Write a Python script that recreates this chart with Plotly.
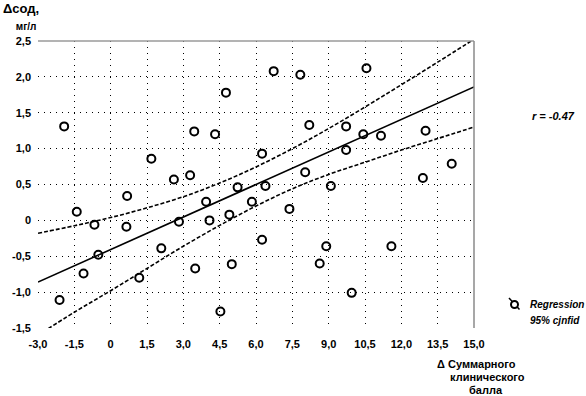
import plotly.graph_objects as go

# ---- data ----
score_x = [-1.92, 4.76, 3.45, 4.31, 1.68, 2.61, 3.28, 5.24, 0.68, -1.40,
           3.94, 5.83, -0.67, 0.65, 2.82, 4.08, 4.90, -0.51, 2.09, -1.12,
           1.18, 3.49, 5.00, -2.11, 4.53, 6.73, 7.83, 10.56, 8.20, 9.72,
           13.00, 11.16, 10.43, 6.25, 9.72, 8.03, 14.08, 12.89, 6.39, 9.09,
           7.38, 6.25, 8.90, 11.59, 8.63, 9.95]
sod_y = [1.31, 1.78, 1.24, 1.20, 0.86, 0.57, 0.63, 0.46, 0.34, 0.12,
         0.26, 0.26, -0.06, -0.09, -0.02, 0.00, 0.08, -0.48, -0.39, -0.74,
         -0.80, -0.67, -0.61, -1.11, -1.27, 2.08, 2.03, 2.12, 1.33, 1.31,
         1.25, 1.18, 1.20, 0.93, 0.98, 0.67, 0.79, 0.59, 0.48, 0.48,
         0.16, -0.27, -0.36, -0.36, -0.60, -1.01]

reg_x = [-3.0, 15.0]
reg_y = [-0.86, 1.86]

band_x = [-3.0, -1.5, 0.0, 1.5, 3.0, 4.5, 6.0, 7.5, 9.0, 10.5, 12.0, 13.5, 15.0]
band_upper = [-0.18, -0.075, 0.04, 0.175, 0.33, 0.52, 0.745, 1.00, 1.28, 1.58, 1.89, 2.205, 2.525]
band_lower = [-1.60, -1.28, -0.98, -0.67, -0.36, -0.07, 0.20, 0.44, 0.64, 0.81, 0.98, 1.14, 1.30]

x_ticks = [-3.0, -1.5, 0.0, 1.5, 3.0, 4.5, 6.0, 7.5, 9.0, 10.5, 12.0, 13.5, 15.0]
x_tick_text = ["-3,0", "-1,5", "0", "1,5", "3,0", "4,5", "6,0", "7,5", "9,0",
               "10,5", "12,0", "13,5", "15,0"]
y_ticks = [-1.5, -1.0, -0.5, 0.0, 0.5, 1.0, 1.5, 2.0, 2.5]
y_tick_text = ["-1,5", "-1,0", "-0,5", "0", "0,5", "1,0", "1,5", "2,0", "2,5"]

# ---- layout geometry (pixels) ----
W, H = 586, 396
L, R, T, B = 38, 474, 41, 328


def px(x):
    return (x - L) / (R - L)


def py(y):
    return (B - y) / (B - T)


FONT = "Liberation Sans, Arial, sans-serif"

fig = go.Figure()
fig.add_trace(go.Scatter(x=band_x, y=band_upper, mode="lines",
                         line=dict(color="black", width=1.6, dash="4px,2px", shape="spline"),
                         hoverinfo="skip", showlegend=False))
fig.add_trace(go.Scatter(x=band_x, y=band_lower, mode="lines",
                         line=dict(color="black", width=1.6, dash="4px,2px", shape="spline"),
                         hoverinfo="skip", showlegend=False))
fig.add_trace(go.Scatter(x=reg_x, y=reg_y, mode="lines",
                         line=dict(color="black", width=1.6),
                         hoverinfo="skip", showlegend=False))
fig.add_trace(go.Scatter(x=score_x, y=sod_y, mode="markers",
                         marker=dict(symbol="circle-open", size=8, color="black",
                                     line=dict(color="black", width=2)),
                         showlegend=False, cliponaxis=False))

axis_common = dict(showline=False, zeroline=False, showgrid=True,
                   gridcolor="black", gridwidth=1.4, griddash="1.4px,4.6px",
                   ticks="", tickfont=dict(family=FONT, size=11, color="black",
                                           weight="bold"))
fig.update_xaxes(range=[-3, 15], tickmode="array", tickvals=x_ticks,
                 ticktext=x_tick_text, ticklabelstandoff=8, **axis_common)
fig.update_yaxes(range=[-1.5, 2.5], tickmode="array", tickvals=y_ticks,
                 ticktext=y_tick_text, ticklabelstandoff=6, **axis_common)

shapes = [
    dict(type="line", xref="paper", yref="paper", x0=0, x1=1, y0=1, y1=1,
         line=dict(color="#9a9a9a", width=1.5)),
    dict(type="line", xref="paper", yref="paper", x0=1, x1=1, y0=0, y1=1,
         line=dict(color="#8a8a8a", width=1.5)),
    # legend icon
    dict(type="line", xref="paper", yref="paper", x0=px(509), x1=px(519.5),
         y0=py(298), y1=py(309.5), line=dict(color="black", width=1.5)),
    dict(type="circle", xref="paper", yref="paper", x0=px(511), x1=px(518),
         y0=py(301), y1=py(308), line=dict(color="black", width=2),
         fillcolor="white"),
]

bold = dict(family=FONT, color="black", weight="bold")
annotations = [
    dict(text="Δсод,<br><span style='font-size:10px'>мг/л&nbsp;</span>",
         x=px(1), y=py(-1.5), xanchor="left", yanchor="top", align="right",
         font=dict(size=13, **bold)),
    dict(text="<i>r = -0.47</i>", x=px(530), y=py(116), xanchor="left", yanchor="middle",
         font=dict(size=11, **bold)),
    dict(text="<i>Regression</i>", x=px(528), y=py(304), xanchor="left", yanchor="middle",
         font=dict(size=10, **bold)),
    dict(text="<i>95% cjnfid</i>", x=px(528), y=py(320), xanchor="left", yanchor="middle",
         font=dict(size=10, **bold)),
    dict(text="Δ Суммарного", x=px(476.5), y=py(364), xanchor="center", yanchor="middle",
         font=dict(size=11, **bold)),
    dict(text="клинического", x=px(488), y=py(377), xanchor="center", yanchor="middle",
         font=dict(size=11, **bold)),
    dict(text="балла", x=px(486), y=py(390), xanchor="center", yanchor="middle",
         font=dict(size=11, **bold)),
]
for a in annotations:
    a.update(xref="paper", yref="paper", showarrow=False)

fig.update_layout(width=W, height=H, autosize=False,
                  margin=dict(l=L, r=W - R, t=T, b=H - B, pad=0),
                  paper_bgcolor="white", plot_bgcolor="white",
                  shapes=shapes, annotations=annotations, showlegend=False)

fig.write_html("out.html", config={"displayModeBar": False},
               post_script="document.body.style.margin='0px';document.body.style.overflow='hidden';")
